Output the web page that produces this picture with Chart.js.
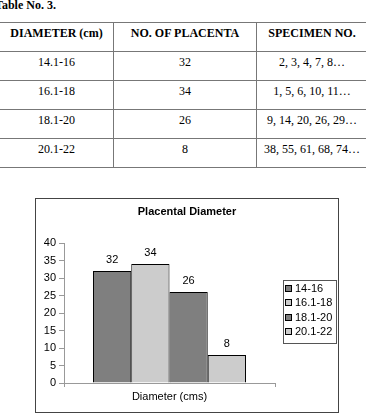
<!DOCTYPE html>
<html>
<head>
<meta charset="utf-8">
<script src="https://cdn.jsdelivr.net/npm/chart.js@4"></script>
<style>
  html, body { margin: 0; padding: 0; background: #fff; }
  body { width: 366px; height: 418px; position: relative; overflow: hidden; }
  #caption { position: absolute; left: -5px; top: -2px; font: bold 12px "Liberation Serif", serif; }
  #data-table { position: absolute; left: -1px; top: 22px; width: 369px; border-collapse: collapse;
    font: 12px/14px "Liberation Serif", serif; table-layout: fixed; }
  #data-table th, #data-table td { border: 1px solid #777; height: 25px; padding: 3px 0 0 0;
    vertical-align: top; text-align: center; }
  #data-table th { font-weight: bold; }
  #chart-box { position: absolute; left: 35px; top: 198px; width: 302px; height: 213px; border: 1px solid #444; }
</style>
</head>
<body>
<div id="caption">Table No. 3.</div>
<table id="data-table">
  <colgroup><col style="width:114px"><col style="width:143px"><col></colgroup>
  <thead><tr><th>DIAMETER (cm)</th><th>NO. OF PLACENTA</th><th>SPECIMEN NO.</th></tr></thead>
  <tbody id="table-body"></tbody>
</table>
<div id="chart-box"><canvas id="graph" width="302" height="213"></canvas></div>
<script>
var diameterRanges = ['14.1-16', '16.1-18', '18.1-20', '20.1-22'];
var legendLabels = ['14-16', '16.1-18', '18.1-20', '20.1-22'];
var placentaCounts = [32, 34, 26, 8];
var specimenNos = ['2, 3, 4, 7, 8…', '1, 5, 6, 10, 11…', '9, 14, 20, 26, 29…', '38, 55, 61, 68, 74…'];
var chartTitle = 'Placental Diameter';
var barColors = ['#7f7f7f', '#cccccc', '#7f7f7f', '#cccccc'];

// table rows
var body = document.getElementById('table-body');
diameterRanges.forEach(function(range, i) {
    var tr = document.createElement('tr');
    [range, placentaCounts[i], specimenNos[i]].forEach(function(v) {
        var td = document.createElement('td');
        td.textContent = v;
        tr.appendChild(td);
    });
    body.appendChild(tr);
});

Chart.defaults.font.family = '"Liberation Sans", Arial, sans-serif';
Chart.defaults.font.size = 11;
Chart.defaults.color = '#000';

var valueLabels = {
    id: 'valueLabels',
    afterDatasetsDraw: function(chart) {
        var ctx = chart.ctx;
        ctx.save();
        ctx.font = '11px "Liberation Sans", Arial, sans-serif';
        ctx.fillStyle = '#000';
        ctx.textAlign = 'center';
        ctx.textBaseline = 'middle';
        chart.data.datasets.forEach(function(ds, i) {
            chart.getDatasetMeta(i).data.forEach(function(bar, j) {
                ctx.fillText(ds.data[j], bar.x, bar.y - 11);
            });
        });
        ctx.restore();
    }
};

// title centred on the whole box, plus the framed legend on the right
var boxDecor = {
    id: 'boxDecor',
    afterDraw: function(chart) {
        var ctx = chart.ctx;
        ctx.save();
        ctx.fillStyle = '#000';
        ctx.textAlign = 'center';
        ctx.textBaseline = 'middle';
        ctx.font = 'bold 11px "Liberation Sans", Arial, sans-serif';
        ctx.fillText(chartTitle, chart.width / 2, 13);

        var x = chart.chartArea.right + 8, y = 81;
        ctx.strokeStyle = '#555';
        ctx.lineWidth = 1;
        ctx.strokeRect(x + 0.5, y + 0.5, 53, 63);
        ctx.font = '11px "Liberation Sans", Arial, sans-serif';
        ctx.textAlign = 'left';
        chart.data.datasets.forEach(function(ds, i) {
            var cy = y + 9 + i * 14.3;
            ctx.fillStyle = ds.backgroundColor;
            ctx.fillRect(x + 2.5, Math.round(cy) - 3.5, 6, 6);
            ctx.strokeStyle = '#000';
            ctx.strokeRect(x + 2.5, Math.round(cy) - 3.5, 6, 6);
            ctx.fillStyle = '#000';
            ctx.fillText(ds.label, x + 12, cy);
        });
        ctx.restore();
    }
};

new Chart(document.getElementById('graph'), {
    type: 'bar',
    data: {
        labels: [''],
        datasets: legendLabels.map(function(lbl, i) {
            return {
                label: lbl,
                data: [placentaCounts[i]],
                backgroundColor: barColors[i],
                borderColor: '#000',
                borderWidth: 1,
                categoryPercentage: 0.725,
                barPercentage: 1
            };
        })
    },
    options: {
        responsive: false,
        animation: false,
        layout: { padding: { left: 0, right: 63, top: 44, bottom: 0 } },
        plugins: {
            legend: { display: false },
            tooltip: { enabled: false },
            title: { display: false }
        },
        scales: {
            y: {
                min: 0,
                max: 40,
                afterFit: function(scale) { scale.width = 28; },
                border: { color: '#999' },
                grid: { drawOnChartArea: false, tickLength: 5, tickColor: '#999' },
                ticks: { stepSize: 5, padding: 3 }
            },
            x: {
                afterFit: function(scale) { scale.height = 29; },
                border: { color: '#999' },
                grid: { drawOnChartArea: false, tickLength: 4, tickColor: '#999', offset: true },
                ticks: { display: false },
                title: { display: true, text: 'Diameter (cms)', padding: { top: 0, bottom: 8.4 } }
            }
        }
    },
    plugins: [valueLabels, boxDecor]
});
</script>
</body>
</html>
